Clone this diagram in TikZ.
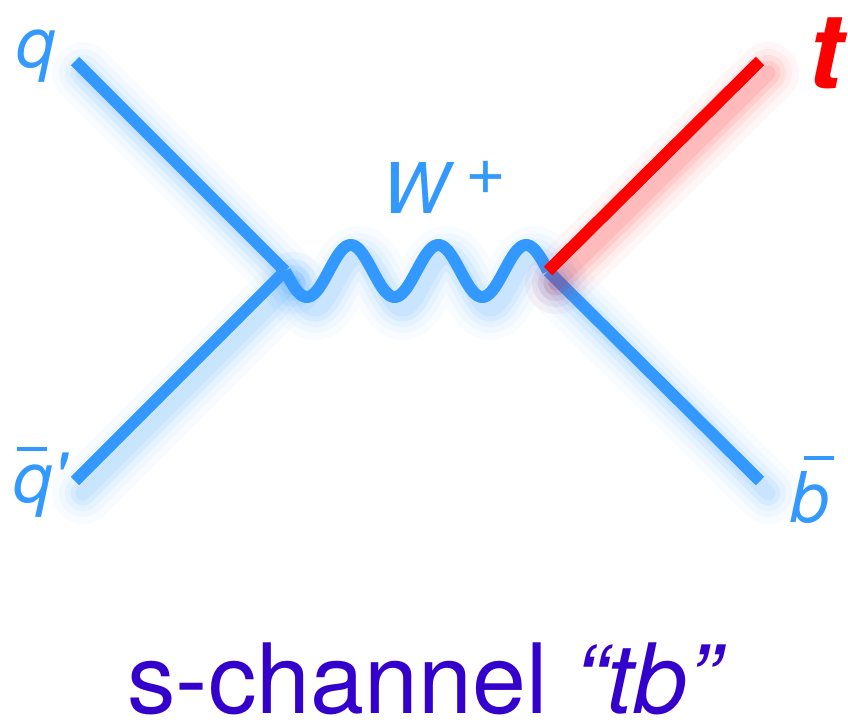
\documentclass[tikz,border=0pt]{standalone}
\usepackage{fontspec}
\setmainfont{TeX Gyre Heros}
\definecolor{quarkblue}{RGB}{51,153,255}
\definecolor{topred}{RGB}{255,0,0}
\definecolor{capviolet}{RGB}{51,0,204}
% bar over a letter: kern, raise
\newcommand{\barover}[2]{\leavevmode\rlap{\kern#1\rule[#2]{0.43em}{0.058em}}}
\tikzset{
  glow/.style={
    preaction={draw=#1,line cap=round,line width=62pt,opacity=.03,transform canvas={shift={(8,12)}}},
    preaction={draw=#1,line cap=round,line width=48pt,opacity=.045,transform canvas={shift={(8,12)}}},
    preaction={draw=#1,line cap=round,line width=36pt,opacity=.06,transform canvas={shift={(8,12)}}},
    preaction={draw=#1,line cap=round,line width=25pt,opacity=.08,transform canvas={shift={(8,12)}}},
    preaction={draw=#1,line cap=round,line width=15pt,opacity=.09,transform canvas={shift={(8,12)}}}},
  quark/.style={draw=quarkblue,line width=12pt,glow=quarkblue},
  top/.style={draw=topred,line width=12pt,glow=topred},
  boson/.style={quark,line join=round},
  lbl/.style={inner sep=0pt,anchor=base west,text=quarkblue,font=\fontsize{70}{70}\selectfont\itshape}
}
\begin{document}
\begin{tikzpicture}[x=1pt,y=-1pt]
\useasboundingbox (0,0) rectangle (848,723);
% vertices and external ends
\coordinate (vL) at (285,271);
\coordinate (vR) at (548,271);
\coordinate (q) at (75,61);
\coordinate (qbar) at (75,481);
\coordinate (t) at (760,61);
\coordinate (bbar) at (760,481);
\draw[quark] (q) -- (vL);
\draw[quark] (qbar) -- (vL);
% W propagator, three periods from vL to vR
\draw[boson] (vL) plot[domain=0:1,samples=181,smooth] ({285+263*\x},{271+26*sin(1080*\x)}) -- (vR);
\draw[quark] (vR) -- (bbar);
\draw[top] (vR) -- (t);
% labels
\node[lbl] (qlab) at (16,67) {q};
\node[lbl] (qbarlab) at (13,502) {\barover{0.06em}{0.73em}q\textquotesingle};
\node[lbl] (wlab) at (382,213) {W\kern0.24em\raisebox{0.27em}{\upshape+}};
\node[lbl,text=topred,font=\fontsize{105}{105}\selectfont\bfseries\itshape] (tlab) at (808,88) {t};
\node[lbl] (bbarlab) at (790,522) {\barover{0.19em}{0.89em}b};
\node[inner sep=0pt,anchor=base west,text=capviolet,font=\fontsize{97}{97}\selectfont] (caption) at (127,713) {s-channel {\itshape “tb”}};
\end{tikzpicture}
\end{document}
